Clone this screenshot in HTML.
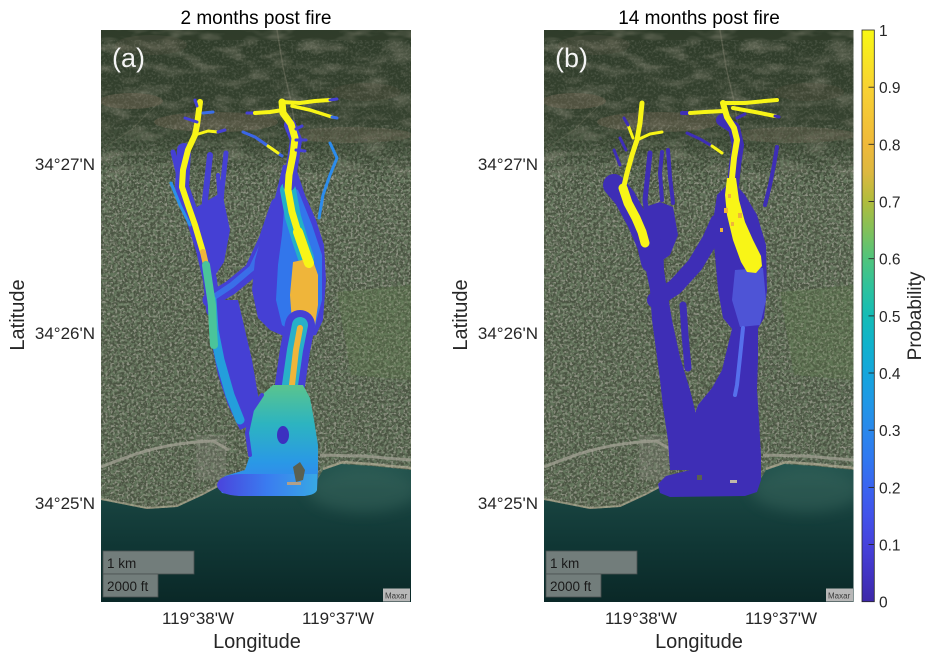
<!DOCTYPE html>
<html><head><meta charset="utf-8">
<style>html,body{margin:0;padding:0;background:#fff;}svg{display:block;}
text{font-family:"Liberation Sans",Arial,sans-serif;}</style></head>
<body>
<svg width="935" height="662" viewBox="0 0 935 662" xmlns="http://www.w3.org/2000/svg" xmlns:xlink="http://www.w3.org/1999/xlink">
<defs>
 <filter id="spkL" x="0" y="0" width="1" height="1">
  <feTurbulence type="fractalNoise" baseFrequency="0.42" numOctaves="2" seed="7"/>
  <feColorMatrix type="matrix" values="0 0 0 0 0.66  0 0 0 0 0.64  0 0 0 0 0.56  0 0 0 4.5 -2.1"/>
 </filter>
 <filter id="spkD" x="0" y="0" width="1" height="1">
  <feTurbulence type="fractalNoise" baseFrequency="0.3" numOctaves="2" seed="13"/>
  <feColorMatrix type="matrix" values="0 0 0 0 0.15  0 0 0 0 0.22  0 0 0 0 0.13  0 0 0 4 -1.7"/>
 </filter>
 <filter id="terr" x="0" y="0" width="1" height="1">
  <feTurbulence type="fractalNoise" baseFrequency="0.035 0.09" numOctaves="3" seed="2"/>
  <feColorMatrix type="matrix" values="0 0 0 0 0.42  0 0 0 0 0.39  0 0 0 0 0.31  2.6 0 0 0 -1.2"/>
 </filter>
 <filter id="blur6" x="-50%" y="-50%" width="200%" height="200%"><feGaussianBlur stdDeviation="7"/></filter>
 <linearGradient id="mtn" x1="0" y1="0" x2="0" y2="1">
  <stop offset="0" stop-color="#2f3c2a" stop-opacity="1"/>
  <stop offset="0.65" stop-color="#34412e" stop-opacity="0.9"/>
  <stop offset="1" stop-color="#34412e" stop-opacity="0"/>
 </linearGradient>
 <linearGradient id="sea" gradientUnits="userSpaceOnUse" x1="0" y1="432" x2="0" y2="572">
  <stop offset="0" stop-color="#245650"/>
  <stop offset="0.2" stop-color="#1a4642"/>
  <stop offset="0.55" stop-color="#113836"/>
  <stop offset="1" stop-color="#0a2827"/>
 </linearGradient>
 <linearGradient id="urbG" gradientUnits="userSpaceOnUse" x1="0" y1="95" x2="0" y2="150">
  <stop offset="0" stop-color="#fff" stop-opacity="0.15"/>
  <stop offset="1" stop-color="#fff" stop-opacity="1"/>
 </linearGradient>
 <mask id="urbM" maskUnits="userSpaceOnUse" x="0" y="0" width="310" height="572">
  <rect x="0" y="95" width="310" height="400" fill="url(#urbG)"/>
 </mask>
 <g id="bg">
  <rect width="310" height="572" fill="#4a5442"/>
  <rect width="310" height="170" fill="url(#mtn)"/>
  <rect x="0" y="0" width="310" height="150" fill="#000" filter="url(#terr)" opacity="0.35"/>
  <ellipse cx="30" cy="71" rx="32" ry="8" fill="#6e6452" opacity="0.5"/>
  <ellipse cx="115" cy="92" rx="62" ry="10" fill="#6e6452" opacity="0.45"/>
  <ellipse cx="250" cy="105" rx="62" ry="8" fill="#6e6452" opacity="0.4"/>
  <ellipse cx="50" cy="15" rx="36" ry="10" fill="#5e5848" opacity="0.3"/>
  <ellipse cx="265" cy="62" rx="35" ry="9" fill="#5e5848" opacity="0.25"/>
  <path d="M176,0 L182,37 L189,67 L195,100" stroke="#7a7a68" stroke-width="1.5" fill="none" opacity="0.45"/>
  <path d="M0,120 L30,100 L60,70" stroke="#70725f" stroke-width="1.2" fill="none" opacity="0.35"/>
  <g mask="url(#urbM)">
   <rect x="0" y="95" width="310" height="385" fill="#000" filter="url(#spkL)" opacity="0.5"/>
   <rect x="0" y="95" width="310" height="385" fill="#000" filter="url(#spkD)" opacity="0.7"/>
  </g>
  <rect x="0" y="10" width="310" height="90" fill="#000" filter="url(#spkL)" opacity="0.12"/>
  <path d="M236,262 L310,255 L310,350 L250,345 Z" fill="#5f7d4c" opacity="0.3"/>
  <rect x="95" y="405" width="30" height="45" fill="#8a8a80" opacity="0.3"/>
  <path d="M0,437 C30,425 60,413 112,411 L128,420" stroke="#a3a294" stroke-width="3" fill="none" opacity="0.75"/>
  <path d="M219,425 L260,426 L310,430" stroke="#a3a294" stroke-width="3" fill="none" opacity="0.75"/>
  <path d="M0,470 L46,479 L76,477 L102,465 L117,457 L150,455 L215,452 L222,440 L240,434 L270,436 L310,440 L310,572 L0,572 Z" fill="url(#sea)"/>
  <ellipse cx="262" cy="460" rx="55" ry="22" fill="#4a766a" opacity="0.35" filter="url(#blur6)"/>
  <path d="M0,469 L46,478 L76,476 L102,464 L117,456" stroke="#b8b19a" stroke-width="2" fill="none" opacity="0.6"/>
  <path d="M222,439 L242,432 L270,434 L310,438" stroke="#b8b19a" stroke-width="2.5" fill="none" opacity="0.65"/>
 </g>
 <linearGradient id="cbar" x1="0" y1="0" x2="0" y2="1">
  <stop offset="0" stop-color="#f8f814"/>
  <stop offset="0.1" stop-color="#f8d232"/>
  <stop offset="0.2" stop-color="#efb93a"/>
  <stop offset="0.25" stop-color="#dcb840"/>
  <stop offset="0.3" stop-color="#b0bc3c"/>
  <stop offset="0.35" stop-color="#82c05a"/>
  <stop offset="0.4" stop-color="#50c47c"/>
  <stop offset="0.45" stop-color="#2ec29c"/>
  <stop offset="0.5" stop-color="#14bcb6"/>
  <stop offset="0.55" stop-color="#10b2cc"/>
  <stop offset="0.6" stop-color="#14a6dc"/>
  <stop offset="0.65" stop-color="#2098e6"/>
  <stop offset="0.7" stop-color="#2a88ec"/>
  <stop offset="0.75" stop-color="#3078f0"/>
  <stop offset="0.8" stop-color="#3a64f0"/>
  <stop offset="0.85" stop-color="#4252ea"/>
  <stop offset="0.9" stop-color="#4642dc"/>
  <stop offset="0.95" stop-color="#4234c4"/>
  <stop offset="1" stop-color="#3d28a8"/>
 </linearGradient>
 <linearGradient id="fanA" gradientUnits="userSpaceOnUse" x1="0" y1="385" x2="0" y2="496">
  <stop offset="0" stop-color="#5ac48e"/>
  <stop offset="0.35" stop-color="#2db4c0"/>
  <stop offset="0.7" stop-color="#2a98e6"/>
  <stop offset="1" stop-color="#3a7cf0"/>
 </linearGradient>
 <linearGradient id="ellA" gradientUnits="userSpaceOnUse" x1="217" y1="0" x2="317" y2="0">
  <stop offset="0" stop-color="#4a44dc"/>
  <stop offset="0.5" stop-color="#3a7cf0"/>
  <stop offset="1" stop-color="#38a8e4"/>
 </linearGradient>
 <clipPath id="cA"><rect x="101" y="30" width="310" height="572"/></clipPath>
 <clipPath id="cB"><rect x="544" y="30" width="309.5" height="572"/></clipPath>
</defs>

<rect width="935" height="662" fill="#fff"/>

<!-- Panel A -->
<g clip-path="url(#cA)">
 <use xlink:href="#bg" href="#bg" transform="translate(101,30)"/>
 <g fill="none" stroke-linecap="round" stroke-linejoin="round">
  <path d="M184,150 L182,187 L192,215 L203,250 L210,280 L213,310" stroke="#4540d4" stroke-width="14"/>
  <path d="M173,152 L185,200" stroke="#4540d4" stroke-width="5"/>
  <path d="M210,155 L205,200 L203,240" stroke="#4540d4" stroke-width="6"/>
  <path d="M226,153 L222,190 L220,215" stroke="#4540d4" stroke-width="5"/>
  <path d="M218,175 L222,230 L225,245" stroke="#4540d4" stroke-width="4"/>
  <path d="M171,183 L180,205 L190,225" stroke="#2a90ea" stroke-width="3"/>
  <path d="M192,210 L222,192 L230,230 L224,262 L212,280 L201,250 Z" fill="#4540d4" stroke="none"/>
  <path d="M210,300 L230,288 L252,270 L266,240 L278,205" stroke="#4540d4" stroke-width="15"/>
  <path d="M214,297 L232,285 L252,268 L265,240 L276,208" stroke="#3a6ee8" stroke-width="6"/>
  <path d="M283,165 L295,165 L305,195 L316,220 L324,245 L326,280 L323,320 L316,335 L300,338 L288,338 L270,330 L258,318 L252,290 L255,260 L262,235 L272,210 Z" fill="#4540d4" stroke="none"/>
  <path d="M286,185 L298,190 L312,225 L322,255 L322,300 L314,330 L296,335 L282,325 L276,300 L278,265 L282,235 L284,210 Z" fill="#2f80ee" stroke="none" opacity="0.85"/>
  <path d="M288,190 L293,217 L300,240 L306,258" stroke="#22b0c8" stroke-width="16"/>
  <path d="M293,262 L312,258 L318,275 L318,305 L315,325 L302,330 L292,322 L290,295 Z" fill="#efb53a" stroke="none"/>
  <path d="M300,325 L295,350 L290,385" stroke="#4540d4" stroke-width="30"/>
  <path d="M300,325 L295,350 L290,385" stroke="#28b0c8" stroke-width="16"/>
  <path d="M300,328 L296,350 L292,385" stroke="#efb53a" stroke-width="6"/>
  <path d="M207,300 L238,300 L245,330 L252,360 L258,395 L262,420 L240,430 L228,405 L218,375 L212,345 Z" fill="#4540d4" stroke="none"/>
  <path d="M212,300 L214,330 L220,360 L230,395 L240,420" stroke="#20a8dc" stroke-width="9" opacity="0.9"/>
  <path d="M273,385 L303,385 L310,398 L314,420 L318,445 L318,470 L317,490 L305,496 L240,496 L222,493 L217,485 L225,476 L245,470 L250,455 L247,433 L252,410 L262,395 Z" fill="url(#fanA)" stroke="none"/>
  <path d="M262,395 L252,410 L247,433 L250,455" stroke="#4540d4" stroke-width="4"/>
  <path d="M217,485 Q218,475 240,474 L317,474 L317,490 Q315,496 300,496 L240,496 Q218,495 217,485 Z" fill="url(#ellA)" stroke="none"/>
  <ellipse cx="283" cy="435" rx="6" ry="9" fill="#3c30c0" stroke="none"/>
  <path d="M293,467 L300,462 L305,470 L303,480 L296,482 Z" fill="#5a6050" stroke="none"/>
  <rect x="287" y="482" width="14" height="3" fill="#b0a08a" stroke="none"/>
  <path d="M290,125 L296,140 L293,160 L289,185" stroke="#4540d4" stroke-width="12"/>
  <path d="M200,102 L197,125 L195,135 L188,150 L183,170 L182,187 L188,205 L195,225 L200,242 L203,252" stroke="#f8f517" stroke-width="6"/>
  <path d="M203,252 L206,265" stroke="#efb53a" stroke-width="6"/>
  <path d="M206,265 L209,285 L212,305 L213,330 L214,345" stroke="#4ac49a" stroke-width="8"/>
  <path d="M195,135 L208,131 L218,132" stroke="#f8f517" stroke-width="3"/>
  <path d="M218,132 L225,130" stroke="#4540d4" stroke-width="3"/>
  <path d="M185,118 L197,122" stroke="#4540d4" stroke-width="3"/>
  <path d="M203,113 L213,112" stroke="#3a6ee8" stroke-width="3"/>
  <path d="M195,100 L197,106" stroke="#4540d4" stroke-width="3"/>
  <path d="M282,102 L283,113 L291,124 L295,138 L293,155 L289,175 L288,190 L292,212 L298,232" stroke="#f8f517" stroke-width="7"/>
  <path d="M298,232 L305,252 L309,263" stroke="#f8f517" stroke-width="10"/>
  <path d="M247,113 L255,113" stroke="#4540d4" stroke-width="3"/>
  <path d="M255,113 L270,112 L283,110" stroke="#f8f517" stroke-width="4"/>
  <path d="M282,102 L300,103 L315,101 L330,100" stroke="#f8f517" stroke-width="4"/>
  <path d="M330,100 L337,99" stroke="#4540d4" stroke-width="3"/>
  <path d="M292,106 L310,110 L332,117" stroke="#f8f517" stroke-width="3.5"/>
  <path d="M332,117 L337,118" stroke="#3a6ee8" stroke-width="3"/>
  <path d="M243,132 L255,137 L268,146 L282,156" stroke="#3b66e6" stroke-width="3"/>
  <path d="M268,146 L278,153" stroke="#f8f517" stroke-width="3"/>
  <path d="M296,129 L302,126" stroke="#4540d4" stroke-width="3"/>
  <path d="M296,140 L306,140" stroke="#4540d4" stroke-width="3"/>
  <path d="M296,150 L305,151" stroke="#4540d4" stroke-width="3"/>
  <path d="M330,143 L337,158 L330,175 L323,195 L319,218" stroke="#2c8cec" stroke-width="3"/>
 </g>
 <text x="112" y="67" font-size="27" fill="#f4f4f4">(a)</text>
 <rect x="103" y="551" width="91" height="23" fill="#727d7b" stroke="#4a5050" stroke-width="0.8"/>
 <rect x="103" y="574" width="55" height="23" fill="#727d7b" stroke="#4a5050" stroke-width="0.8"/>
 <text x="107" y="568" font-size="13.5" fill="#1a1a1a">1 km</text>
 <text x="107" y="591" font-size="13.5" fill="#1a1a1a">2000 ft</text>
 <rect x="383" y="588.5" width="27" height="13" fill="#b8b8b8"/>
 <text x="385" y="598.5" font-size="8" fill="#3a3a3a">Maxar</text>
</g>

<!-- Panel B -->
<g clip-path="url(#cB)">
 <use xlink:href="#bg" href="#bg" transform="translate(544,30)"/>
 <g fill="none" stroke-linecap="round" stroke-linejoin="round">
  <path d="M614,185 L625,198 L638,222 L648,245 L652,262" stroke="#3e2eb6" stroke-width="22"/>
  <path d="M620,138 L626,150" stroke="#3e2eb6" stroke-width="3"/>
  <path d="M614,150 L620,165" stroke="#3e2eb6" stroke-width="3"/>
  <path d="M650,153 L645,200 L648,223" stroke="#3e2eb6" stroke-width="5"/>
  <path d="M662,152 L660,173 L662,200" stroke="#3e2eb6" stroke-width="4"/>
  <path d="M668,150 L670,177 L673,203" stroke="#3e2eb6" stroke-width="4"/>
  <path d="M645,207 L660,202 L673,207 L678,235 L670,255 L660,262 L650,250 Z" fill="#3e2eb6" stroke="none"/>
  <path d="M642,235 L663,240 L664,270 L667,290 L672,320 L680,357 L690,390 L695,410 L698,440 L700,470 L670,470 L668,440 L663,407 L660,380 L657,357 L652,320 L650,290 L645,265 Z" fill="#3e2eb6" stroke="none"/>
  <path d="M655,300 L675,287 L695,265 L710,240 L718,222" stroke="#3e2eb6" stroke-width="16"/>
  <path d="M717,195 L732,180 L745,195 L757,215 L766,245 L767,290 L764,318 L757,330 L733,330 L723,318 L718,290 L715,255 L712,228 Z" fill="#3e2eb6" stroke="none"/>
  <path d="M722,120 L734,128 L738,145 L735,165 L733,185" stroke="#3e2eb6" stroke-width="12"/>
  <path d="M683,305 L685,335 L688,368" stroke="#3e2eb6" stroke-width="7"/>
  <path d="M733,325 L758,325 L758,360 L757,390 L759,420 L761,455 L761,480 L757,492 L745,496 L670,497 L660,493 L658,484 L666,476 L690,470 L693,450 L691,425 L698,405 L712,388 L722,370 L728,345 Z" fill="#3e2eb6" stroke="none"/>
  <path d="M735,270 L763,268 L766,300 L760,325 L740,327 L732,300 Z" fill="#5565e4" stroke="none" opacity="0.7"/>
  <path d="M743,328 L740,357 L737,385 L735,395" stroke="#5670ec" stroke-width="4"/>
  <rect x="697" y="475" width="5" height="5" fill="#5a6050" stroke="none"/>
  <rect x="730" y="480" width="7" height="3" fill="#c0b8a8" stroke="none"/>
  <path d="M777,147 L774,165 L770,185 L765,205" stroke="#3e2eb6" stroke-width="4"/>
  <path d="M642,103 L640,123 L637,140 L632,155 L627,173 L623,190" stroke="#f8f517" stroke-width="5"/>
  <path d="M623,188 L628,203 L636,218 L642,232 L645,243" stroke="#f8f517" stroke-width="9"/>
  <path d="M637,140 L650,134 L662,132" stroke="#f8f517" stroke-width="3"/>
  <path d="M628,125 L633,138" stroke="#f8f517" stroke-width="3"/>
  <path d="M624,118 L628,125" stroke="#3e2eb6" stroke-width="3"/>
  <path d="M723,103 L727,117 L734,128 L737,140 L734,158 L732,178" stroke="#f8f517" stroke-width="6"/>
  <path d="M727,178 L736,178 L739,200 L745,222 L753,240 L761,256 L762,266 L756,273 L747,272 L741,262 L733,240 L727,215 L725,195 Z" fill="#f8f517" stroke="none"/>
  <path d="M682,113 L690,113" stroke="#3e2eb6" stroke-width="4"/>
  <path d="M690,113 L705,112 L723,111" stroke="#f8f517" stroke-width="4"/>
  <path d="M723,103 L745,103 L765,101 L777,100" stroke="#f8f517" stroke-width="4"/>
  <path d="M733,108 L755,112 L775,116" stroke="#f8f517" stroke-width="4"/>
  <path d="M775,116 L779,117" stroke="#3e2eb6" stroke-width="3"/>
  <path d="M687,133 L700,139 L712,146" stroke="#3e2eb6" stroke-width="3"/>
  <path d="M712,146 L722,153" stroke="#f8f517" stroke-width="3"/>
  <path d="M737,118 L745,114" stroke="#3e2eb6" stroke-width="3"/>
  <g fill="#efb53a" stroke="none">
   <rect x="724" y="208" width="4" height="5"/>
   <rect x="738" y="213" width="4" height="5"/>
   <rect x="731" y="222" width="3" height="4"/>
   <rect x="720" y="228" width="3" height="4"/>
   <rect x="728" y="194" width="3" height="4"/>
  </g>
 </g>
 <text x="555" y="67" font-size="27" fill="#f4f4f4">(b)</text>
 <rect x="546" y="551" width="91" height="23" fill="#727d7b" stroke="#4a5050" stroke-width="0.8"/>
 <rect x="546" y="574" width="55" height="23" fill="#727d7b" stroke="#4a5050" stroke-width="0.8"/>
 <text x="550" y="568" font-size="13.5" fill="#1a1a1a">1 km</text>
 <text x="550" y="591" font-size="13.5" fill="#1a1a1a">2000 ft</text>
 <rect x="826" y="588.5" width="27" height="13" fill="#b8b8b8"/>
 <text x="828" y="598.5" font-size="8" fill="#3a3a3a">Maxar</text>
</g>

<text x="256" y="24" font-size="19" text-anchor="middle" fill="#000">2 months post fire</text>
<text x="699" y="24" font-size="19" text-anchor="middle" fill="#000">14 months post fire</text>

<g font-size="17" fill="#262626" text-anchor="end">
 <text x="95" y="170">34°27'N</text>
 <text x="95" y="339">34°26'N</text>
 <text x="95" y="509">34°25'N</text>
 <text x="538" y="170">34°27'N</text>
 <text x="538" y="339">34°26'N</text>
 <text x="538" y="509">34°25'N</text>
</g>
<g font-size="17" fill="#262626" text-anchor="middle">
 <text x="198" y="624">119°38'W</text>
 <text x="338" y="624">119°37'W</text>
 <text x="641" y="624">119°38'W</text>
 <text x="781" y="624">119°37'W</text>
</g>
<g font-size="20" fill="#262626" text-anchor="middle">
 <text x="257" y="648">Longitude</text>
 <text x="699" y="648">Longitude</text>
 <text transform="translate(24,315) rotate(-90)">Latitude</text>
 <text transform="translate(467,315) rotate(-90)">Latitude</text>
 <text transform="translate(921,316) rotate(-90)" font-size="19">Probability</text>
</g>

<rect x="862" y="30" width="12.3" height="571.7" fill="url(#cbar)" stroke="#262626" stroke-width="0.8"/>
<g stroke="#262626" stroke-width="0.9">
 <line x1="868.5" y1="87.2" x2="874.3" y2="87.2"/>
 <line x1="868.5" y1="144.3" x2="874.3" y2="144.3"/>
 <line x1="868.5" y1="201.5" x2="874.3" y2="201.5"/>
 <line x1="868.5" y1="258.7" x2="874.3" y2="258.7"/>
 <line x1="868.5" y1="315.9" x2="874.3" y2="315.9"/>
 <line x1="868.5" y1="373" x2="874.3" y2="373"/>
 <line x1="868.5" y1="430.2" x2="874.3" y2="430.2"/>
 <line x1="868.5" y1="487.4" x2="874.3" y2="487.4"/>
 <line x1="868.5" y1="544.5" x2="874.3" y2="544.5"/>
</g>
<g font-size="15.5" fill="#262626">
 <text x="879" y="36">1</text>
 <text x="879" y="93.2">0.9</text>
 <text x="879" y="150.3">0.8</text>
 <text x="879" y="207.5">0.7</text>
 <text x="879" y="264.7">0.6</text>
 <text x="879" y="321.9">0.5</text>
 <text x="879" y="379">0.4</text>
 <text x="879" y="436.2">0.3</text>
 <text x="879" y="493.4">0.2</text>
 <text x="879" y="550.5">0.1</text>
 <text x="879" y="607.7">0</text>
</g>
</svg>
</body></html>
